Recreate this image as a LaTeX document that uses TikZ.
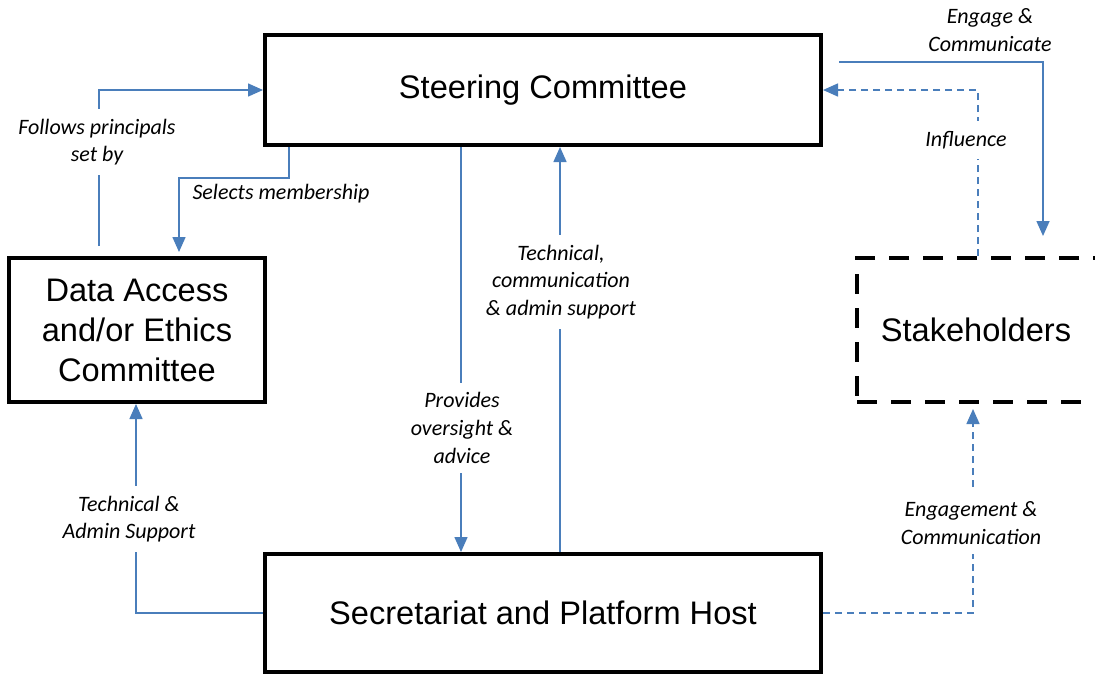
\documentclass[tikz,border=0pt]{standalone}
\usepackage{fontspec}
\setmainfont{Liberation Sans}
\newfontfamily\notefont{Carlito}
\usetikzlibrary{arrows.meta}

\definecolor{linkblue}{RGB}{74,126,187}

\tikzset{
    box/.style={draw=black, line width=2pt, align=center, inner sep=0pt,
        font=\fontsize{16.3}{20}\selectfont},
    dashbox/.style={box, dash pattern=on 10pt off 7pt},
    link/.style={draw=linkblue, line width=0.75pt},
    linkdash/.style={link, dash pattern=on 3.5pt off 2.5pt},
    note/.style={fill=white, align=center, inner xsep=2pt, inner ysep=5pt,
        font=\notefont\itshape\fontsize{11}{13.8}\selectfont}
}

\begin{document}
\begin{tikzpicture}[x=0.5pt, y=-0.5pt, >={Triangle[length=7.5pt,width=6.5pt]}]

    \useasboundingbox (0,0) rectangle (1095,675);

    % --- 1. Boxes ---
    \node[box, minimum width=278pt, minimum height=55pt] (steer) at (543,90) {Steering Committee};
    \node[box, minimum width=128pt, minimum height=72pt] (dac) at (137,330) {Data Access\\and/or Ethics\\Committee};
    \node[dashbox, minimum width=121.5pt, minimum height=72pt] (stake) at (978.5,330) {\hspace*{-2.5pt}Stakeholders};
    \node[box, minimum width=278pt, minimum height=59pt] (sec) at (543,613) {Secretariat and Platform Host};

    % --- 2. Free ends of two connectors ---
    \coordinate (fstart) at (99,246);   % below "Follows principals"
    \coordinate (estart) at (839,62);   % right of the steering box

    % --- 3. Connectors ---
    \draw[link,->] (fstart) |- (steer.west);                                  % follows principals
    \draw[link,->,shorten >=2pt] (steer.south -| 289,0) -- ++(0,31) -| (dac.north -| 179,0); % selects membership
    \draw[link,->] (steer.south -| 461,0) -- (sec.north -| 461,0);            % oversight
    \draw[link,->] (sec.north -| 560,0) -- (steer.south -| 560,0);            % support
    \draw[link,->] (sec.west) -| (dac.south -| 136,0);                        % admin support
    \draw[linkdash,->,shorten >=2.5pt] (sec.east) -| (stake.south -| 973,0);  % engagement
    \draw[link,->,shorten >=10pt] (estart) -| (stake.north -| 1043,0);        % engage
    \draw[linkdash,->] (stake.north -| 978,0) |- (steer.east);                % influence

    % --- 4. Connector labels ---
    \node[note] (follows) at (97,142) {Follows principals\\set by};
    \node[note, fill=none] (selects) at (281,194) {Selects membership};
    \node[note] (oversight) at (462,428) {Provides\\oversight \&\\advice};
    \node[note] (support) at (561,282) {Technical,\\communication\\\& admin support};
    \node[note] (admin) at (129,519) {Technical \&\\Admin Support};
    \node[note] (engagement) at (971,523) {Engagement \&\\Communication};
    \node[note] (engage) at (990,30) {Engage \&\\Communicate};
    \node[note] (influence) at (966,140) {Influence};

\end{tikzpicture}
\end{document}
